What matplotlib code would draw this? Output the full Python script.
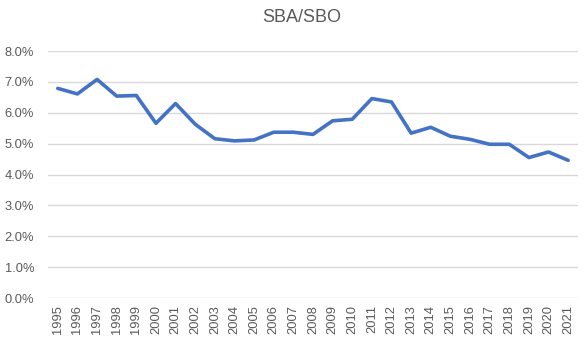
import matplotlib

matplotlib.use("Agg")
import matplotlib.pyplot as plt
from matplotlib.ticker import PercentFormatter

years = [str(y) for y in range(1995, 2022)]
sba_sbo = [6.79, 6.61, 7.08, 6.54, 6.56, 5.66, 6.30, 5.63, 5.16, 5.09,
           5.12, 5.37, 5.37, 5.30, 5.74, 5.79, 6.46, 6.35, 5.34, 5.53,
           5.24, 5.14, 4.98, 4.98, 4.55, 4.73, 4.46]
yticks = [0, 1, 2, 3, 4, 5, 6, 7, 8]

TEXT = "#595959"
GRID = "#d9d9d9"
LINE = "#4472c4"

plt.rcParams["font.family"] = ["Liberation Sans", "DejaVu Sans"]

fig = plt.figure(figsize=(5.85, 3.47), dpi=100)
ax = fig.add_axes([0.082, 0.141, 0.906, 0.712])

x = list(range(len(years)))
ax.plot(x, sba_sbo, color=LINE, lw=2.6, solid_joinstyle="round", solid_capstyle="round")

ax.set_xlim(-0.5, len(years) - 0.5)
ax.set_ylim(0, 8)
ax.set_yticks(yticks)
ax.yaxis.set_major_formatter(PercentFormatter(decimals=1))
ax.set_xticks(x)
ax.set_xticklabels(years, rotation=90)

ax.grid(axis="y", color=GRID, lw=1.0)
ax.set_axisbelow(True)
for side in ["top", "right", "left", "bottom"]:
    ax.spines[side].set_visible(False)
ax.tick_params(axis="both", length=0, colors=TEXT, labelsize=9.3)
ax.tick_params(axis="y", pad=10)
ax.tick_params(axis="x", pad=5)

fig.suptitle("SBA/SBO", x=0.515, y=0.975, fontsize=13, color=TEXT)

fig.savefig("out.png", dpi=100)
plt.close(fig)
